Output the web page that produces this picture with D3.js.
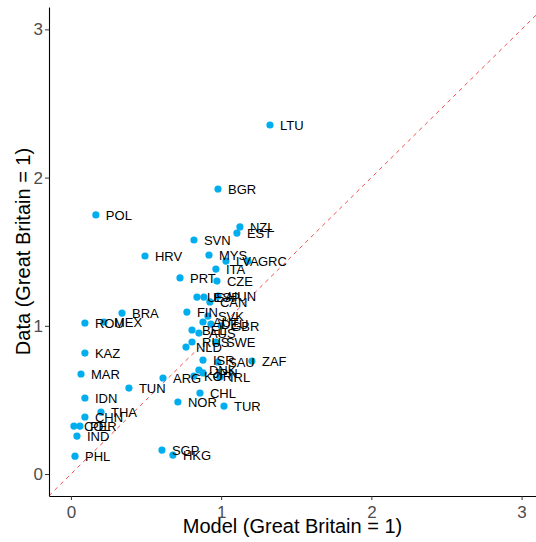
<!DOCTYPE html>
<html>
<head>
<meta charset="utf-8">
<script src="https://cdn.jsdelivr.net/npm/d3@7"></script>
<style>
  html, body { margin: 0; padding: 0; background: #fff; }
  svg { display: block; font-family: "Liberation Sans", Arial, sans-serif; }
</style>
</head>
<body>
<svg id="chart" width="536" height="542"></svg>
<script>
const countries = ["LTU","BGR","POL","NZL","EST","SVN","MYS","HRV","LVA","GRC","ITA","PRT","CZE",
  "USA","ESP","HUN","CAN","FIN","SVK","AUT","DEU","GBR","BEL","AUS","RUS","SWE","NLD",
  "ISR","SAU","ZAF","DNK","JPN","KOR","IRL","ARG","TUN","CHL","NOR","TUR","SGP","HKG",
  "PHL","IND","COL","PER","CHN","THA","IDN","MAR","KAZ","ROU","MEX","BRA"];
const model = [1.325,0.979,0.166,1.125,1.105,0.819,0.919,0.493,1.032,1.178,0.965,0.726,0.972,
  0.839,0.885,0.979,0.925,0.772,0.912,0.879,0.932,1.000,0.806,0.852,0.806,0.965,0.766,
  0.879,0.979,1.205,0.852,0.879,0.819,0.992,0.613,0.386,0.859,0.712,1.019,0.606,0.679,
  0.027,0.040,0.020,0.060,0.093,0.200,0.093,0.067,0.093,0.093,0.220,0.340];
const data = [2.355,1.923,1.748,1.667,1.626,1.579,1.478,1.471,1.437,1.437,1.383,1.323,1.302,
  1.194,1.194,1.201,1.161,1.093,1.066,1.026,1.012,1.000,0.972,0.951,0.891,0.891,0.857,
  0.769,0.756,0.762,0.702,0.682,0.661,0.655,0.648,0.580,0.547,0.486,0.459,0.162,0.128,
  0.121,0.256,0.324,0.324,0.385,0.418,0.513,0.675,0.816,1.019,1.026,1.086];
const xTicks = [0, 1, 2, 3];
const yTicks = [0, 1, 2, 3];
const xTitle = "Model (Great Britain = 1)";
const yTitle = "Data (Great Britain = 1)";

const svg = d3.select("#chart");
const pL = 49, pR = 536, pT = 7, pB = 496;
const x = d3.scaleLinear().domain([-0.146, 3.096]).range([pL, pR]);
const y = d3.scaleLinear().domain([-0.148, 3.151]).range([pB, pT]);

const rows = countries.map((c, i) => ({c, m: model[i], d: data[i]}));

// 45-degree reference line
const lo = -0.146, hi = 3.096;
svg.append("clipPath").attr("id", "clip").append("rect")
  .attr("x", pL).attr("y", pT).attr("width", pR - pL).attr("height", pB - pT);
svg.append("line")
  .attr("clip-path", "url(#clip)")
  .attr("x1", x(lo)).attr("y1", y(lo)).attr("x2", x(hi)).attr("y2", y(hi))
  .attr("stroke", "#f03c3c").attr("stroke-width", 0.9).attr("stroke-dasharray", "4,4");

// points
svg.append("g").selectAll("circle").data(rows).join("circle")
  .attr("cx", d => x(d.m)).attr("cy", d => y(d.d)).attr("r", 3.6)
  .attr("fill", "#00AEEF");

// labels
svg.append("g").selectAll("text").data(rows).join("text")
  .attr("x", d => x(d.m) + 10).attr("y", d => y(d.d)).attr("dy", "0.36em")
  .attr("font-size", 13).attr("fill", "#000").text(d => d.c);

// axes
const xAxis = svg.append("g").attr("transform", `translate(0,${pB})`)
  .call(d3.axisBottom(x).tickValues(xTicks).tickFormat(d3.format("d")).tickSize(4).tickSizeOuter(0));
const yAxis = svg.append("g").attr("transform", `translate(${pL},0)`)
  .call(d3.axisLeft(y).tickValues(yTicks).tickFormat(d3.format("d")).tickSize(4).tickSizeOuter(0));
[xAxis, yAxis].forEach(g => {
  g.select(".domain").attr("stroke", "#000").attr("stroke-width", 1.1);
  g.selectAll(".tick line").attr("stroke", "#333").attr("stroke-width", 1);
  g.selectAll(".tick text").attr("fill", "#4D4D4D").attr("font-size", 17)
    .attr("font-family", "Liberation Sans, Arial, sans-serif");
});
xAxis.selectAll(".tick text").attr("dy", "0.95em").attr("y", 6);
yAxis.selectAll(".tick text").attr("x", -6);

svg.append("text").attr("x", (pL + pR) / 2).attr("y", 533)
  .attr("text-anchor", "middle").attr("font-size", 20).attr("fill", "#000").text(xTitle);
svg.append("text").attr("transform", `translate(30,${(pT + pB) / 2}) rotate(-90)`)
  .attr("text-anchor", "middle").attr("font-size", 20).attr("fill", "#000").text(yTitle);
</script>
</body>
</html>
